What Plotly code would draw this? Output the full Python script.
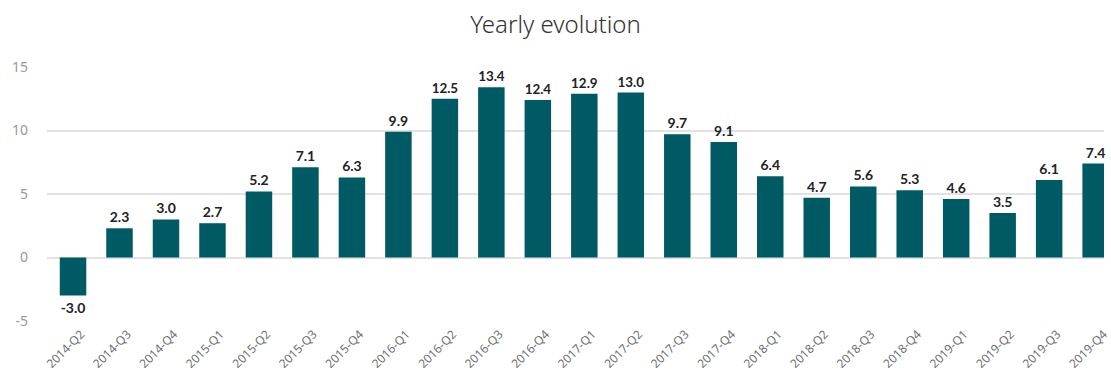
import plotly.graph_objects as go

categories = ["2014-Q2", "2014-Q3", "2014-Q4", "2015-Q1", "2015-Q2", "2015-Q3", "2015-Q4",
              "2016-Q1", "2016-Q2", "2016-Q3", "2016-Q4", "2017-Q1", "2017-Q2", "2017-Q3",
              "2017-Q4", "2018-Q1", "2018-Q2", "2018-Q3", "2018-Q4", "2019-Q1", "2019-Q2",
              "2019-Q3", "2019-Q4"]
values = [-3.0, 2.3, 3.0, 2.7, 5.2, 7.1, 6.3, 9.9, 12.5, 13.4, 12.4, 12.9, 13.0, 9.7,
          9.1, 6.4, 4.7, 5.6, 5.3, 4.6, 3.5, 6.1, 7.4]
y_ticks = [-5, 0, 5, 10, 15]
y_tick_labels = ["-5", "0", "5", "10", "15"]

BAR = "#005A64"
FONT = "'Noto Sans', Lato, sans-serif"

fig = go.Figure(go.Bar(
    x=categories, y=values,
    marker=dict(color=BAR, line=dict(width=0)),
    text=[f"{v:.1f}" for v in values],
    textposition="outside",
    cliponaxis=False,
    textfont=dict(family="Lato, sans-serif", size=14, color="#222222", weight="bold"),
))

fig.update_layout(
    width=1111, height=378,
    margin=dict(l=47, r=0, t=67, b=57),
    paper_bgcolor="white", plot_bgcolor="white",
    bargap=0.43,
    showlegend=False,
    title=dict(text="Yearly evolution", x=0.5, xanchor="center", y=0.935, yanchor="middle",
               font=dict(family=FONT, size=24, color="#333333", weight=300)),
    font=dict(family=FONT),
)
fig.update_xaxes(
    type="category", range=[-0.56, 22.18],
    tickangle=-45, tickfont=dict(size=12, color="#707070"),
    ticklabelshift=8, ticklabelstandoff=3,
    showgrid=False, showline=False, ticks="",
)
fig.update_yaxes(
    range=[-5, 15], tickvals=y_ticks, ticktext=y_tick_labels,
    tickfont=dict(size=14, color="#999999"),
    showgrid=True, gridcolor="#e2e2e2", gridwidth=1.5,
    zeroline=True, zerolinecolor="#e2e2e2", zerolinewidth=1.5,
    ticklabelstandoff=18, showline=False, ticks="",
)

fig.write_html("out.html")
